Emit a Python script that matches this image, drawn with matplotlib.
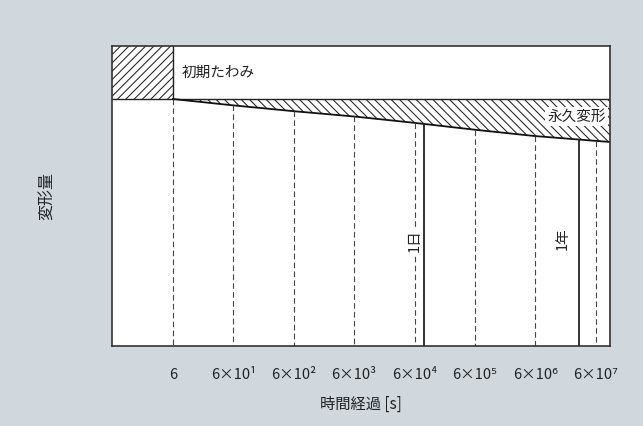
"""Creep deflection sketch: initial deflection plus permanent deformation over log time."""

import matplotlib

matplotlib.use("Agg")
import matplotlib.pyplot as plt
import numpy as np
from matplotlib.ticker import NullLocator

plt.rcParams["font.family"] = ["Noto Sans CJK JP", "DejaVu Sans"]
plt.rcParams["hatch.linewidth"] = 0.75

# time axis [s] and the tick labels for each decade mark
tick_times = [6, 6e1, 6e2, 6e3, 6e4, 6e5, 6e6, 6e7]
tick_labels = ["6", "6×10¹", "6×10²", "6×10³", "6×10⁴", "6×10⁵", "6×10⁶", "6×10⁷"]

# deflection (initial deflection = 1.0) growing with time
creep_times = [6, 6e1, 6e2, 6e3, 6e4, 6e5, 6e6, 6e7, 1.03e8]
creep_defl = [1.0, 1.12, 1.23, 1.33, 1.45, 1.58, 1.70, 1.79, 1.81]
initial_defl = 1.0

# reference durations in seconds
one_day = 86400
one_year = 31536000

BG = "#d0d8de"
INK = "#222222"
Y_BOTTOM = 5.66


def defl_at(t):
    # linear lookup in log-time between the read-off points
    return float(np.interp(np.log10(t), np.log10(creep_times), creep_defl))


fig = plt.figure(figsize=(6.43, 4.26), dpi=100, facecolor=BG)
ax = fig.add_axes([112 / 643, 80 / 426, 498 / 643, 300 / 426])
ax.set_xscale("log")
ax.set_xlim(0.59, 1.03e8)
ax.set_ylim(Y_BOTTOM, 0)

# initial deflection block
x0 = ax.get_xlim()[0]
ax.fill_between([x0, creep_times[0]], 0, initial_defl, facecolor="white",
                edgecolor=INK, hatch="////", lw=0)
ax.plot([creep_times[0], creep_times[0]], [0, initial_defl], color=INK, lw=1.0)

# permanent deformation band
ax.fill_between(creep_times, initial_defl, creep_defl, facecolor="white",
                edgecolor=INK, hatch="\\\\\\\\", lw=0)
ax.axhline(initial_defl, color=INK, lw=1.0)
ax.plot(creep_times, creep_defl, color="#111111", lw=1.3)

# dashed decade markers below the creep curve
for t in tick_times:
    ax.plot([t, t], [defl_at(t), Y_BOTTOM], color="#444444", lw=0.8,
            ls=(0, (5, 3)))

# one day / one year markers
for t in (one_day, one_year):
    ax.plot([t, t], [defl_at(t), Y_BOTTOM], color="#222222", lw=1.3)

ax.text(6e4, 3.68, "1日", rotation=90, ha="center", va="center",
        fontsize=10.5, color=INK,
        bbox=dict(facecolor="white", edgecolor="none", pad=1))
ax.text(1.7e7, 3.64, "1年", rotation=90, ha="center", va="center",
        fontsize=10.5, color=INK,
        bbox=dict(facecolor="white", edgecolor="none", pad=1))

ax.text(8.5, 0.5, "初期たわみ", ha="left", va="center", fontsize=10.5, color=INK)
ax.text(8.8e7, 1.33, "永久変形", ha="right", va="center", fontsize=10.5,
        color=INK, bbox=dict(facecolor="white", edgecolor="none", pad=1.5))

ax.set_xticks(tick_times)
ax.set_xticklabels(tick_labels)
ax.xaxis.set_minor_locator(NullLocator())
ax.set_yticks([])
ax.tick_params(axis="x", length=0, pad=16, labelsize=10.5, labelcolor=INK)
ax.set_xlabel("時間経過 [s]", fontsize=11, color=INK, labelpad=10)
ax.set_ylabel("変形量", fontsize=11.5, color=INK, labelpad=40)

for s in ax.spines.values():
    s.set_color("#333333")
    s.set_linewidth(1.2)

fig.savefig("out.png", facecolor=BG)
